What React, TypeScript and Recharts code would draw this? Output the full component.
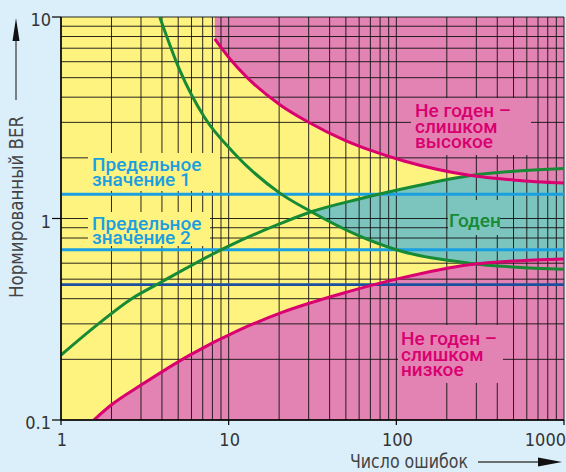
import React from 'react';
import {
  ComposedChart,
  Area,
  Line,
  XAxis,
  YAxis,
  CartesianGrid,
  ReferenceLine,
  ReferenceArea,
} from 'recharts';

// log grid: every 1..9 step of each decade
const xTicks = [1, 2, 3, 4, 5, 6, 7, 8, 9, 10, 20, 30, 40, 50, 60, 70, 80, 90, 100, 200, 300, 400, 500, 600, 700, 800, 900, 1000];
const yTicks = [0.1, 0.2, 0.3, 0.4, 0.5, 0.6, 0.7, 0.8, 0.9, 1, 2, 3, 4, 5, 6, 7, 8, 9, 10];
const xLabels = [1, 10, 100, 1000];
const yLabels = [0.1, 1, 10];

// green curves (borders of the "Годен" zone)
const fallX = [3.88, 5.1, 7.2, 10.6, 20.1, 31.1, 60, 100, 272, 1000];
const fallY = [10, 5.46, 3.16, 2.14, 1.34, 1.08, 0.82, 0.7, 0.6, 0.56];
const riseX = [1, 1.67, 2.64, 3.9, 10, 20.1, 31.1, 60, 100, 272, 1000];
const riseY = [0.21, 0.3, 0.4, 0.48, 0.73, 0.94, 1.08, 1.25, 1.38, 1.63, 1.77];

// magenta curves (too high / too low)
const highX = [8.26, 10.1, 13, 20.3, 29.6, 49, 69, 111, 272, 511, 1000];
const highY = [7.78, 6.24, 4.97, 3.66, 3.02, 2.45, 2.19, 1.93, 1.64, 1.55, 1.5];
const lowX = [1.57, 2, 3, 5.86, 11.6, 21, 50, 100, 272, 1000];
const lowY = [0.1, 0.119, 0.149, 0.21, 0.28, 0.343, 0.43, 0.5, 0.59, 0.63];

// horizontal levels
const limitLevels = [1.32, 0.7];
const normLevel = 0.47;

const BG = '#dbeffb';
const YELLOW = '#fff380';
const PINK = '#e283b3';
const TEAL = '#7cc4be';
const GREEN = '#168a34';
const MAGENTA = '#d9006f';
const LIGHT_BLUE = '#1a9fe0';
const DARK_BLUE = '#1d4f9f';
const AXIS_FONT = '"Liberation Sans Narrow", "DejaVu Sans Condensed", sans-serif';
const LABEL_FONT = 'Roboto, "Noto Sans", sans-serif';

const toPoints = (xs: number[], ys: number[]) => xs.map((x, i) => ({ x, y: ys[i] }));

const fallData = toPoints(fallX, fallY);
const riseData = toPoints(riseX, riseY);
const highData = toPoints(highX, highY);
const lowData = toPoints(lowX, lowY);

const highFill = highX.map((x, i) => ({ x, range: [highY[i], 10] }));
const lowFill = lowX.map((x, i) => ({ x, range: [0.1, lowY[i]] }));
// teal zone: between the two green curves, where the rising one is above
const goodFill = fallX
  .filter((x) => x >= 31.1 && riseX.includes(x))
  .map((x) => ({ x, range: [fallY[fallX.indexOf(x)], riseY[riseX.indexOf(x)]] }));

const XTick = (props: any) => {
  const { x, y, payload } = props;
  if (!xLabels.includes(payload.value)) return <g />;
  const last = payload.value === 1000;
  return (
    <g>
      <line x1={x} x2={x} y1={y} y2={y + 5} stroke="#000" strokeWidth={1.2} />
      <text
        x={last ? x + 2 : x + 1}
        y={y + 26}
        textAnchor={last ? 'end' : 'middle'}
        fontSize={18}
        fontFamily={AXIS_FONT}
        fill="#333"
      >
        {payload.value}
      </text>
    </g>
  );
};

const YTick = (props: any) => {
  const { x, y, payload } = props;
  if (!yLabels.includes(payload.value)) return <g />;
  return (
    <g>
      <line x1={x - 9} x2={x} y1={y} y2={y} stroke="#000" strokeWidth={1.2} />
      <text x={x - 10} y={y + 9} textAnchor="end" fontSize={18} fontFamily={AXIS_FONT} fill="#333">
        {payload.value}
      </text>
    </g>
  );
};

// multi-line label as one text element, tight leading like the original
const Label = ({ x, y, lines, color, gap }: { x: number; y: number; lines: string[]; color: string; gap: number }) => (
  <text x={x} y={y} fill={color}>
    {lines.map((l, i) => (
      <tspan key={i} x={x} dy={i === 0 ? 0 : gap}>
        {l}
      </tspan>
    ))}
  </text>
);

const Overlay = () => (
  <svg
    width={566}
    height={472}
    style={{ position: 'absolute', left: 0, top: 0, pointerEvents: 'none' }}
  >
    {/* label boxes that break the grid */}
    <rect x={88} y={153} width={132} height={38} fill={YELLOW} />
    <rect x={88} y={212} width={122} height={34} fill={YELLOW} />
    <rect x={411} y={98} width={120} height={57} fill={PINK} />
    <rect x={448} y={200} width={52} height={35} fill={TEAL} />
    <rect x={398} y={325} width={105} height={58} fill={PINK} />

    <g fontFamily={LABEL_FONT} fontWeight={500} fontSize={19}>
      <Label x={92} y={171} gap={15} color={LIGHT_BLUE} lines={['Предельное', 'значение 1']} />
      <Label x={92} y={230} gap={14} color={LIGHT_BLUE} lines={['Предельное', 'значение 2']} />
      <Label x={415} y={117} gap={15.5} color={MAGENTA} lines={['Не годен –', 'слишком', 'высокое']} />
      <text x={449} y={227} fill={GREEN}>Годен</text>
      <Label x={401} y={345} gap={15.5} color={MAGENTA} lines={['Не годен –', 'слишком', 'низкое']} />
    </g>

    {/* axis titles with arrows */}
    <text
      x={0}
      y={0}
      transform="translate(23 207) rotate(-90)"
      textAnchor="middle"
      fontFamily={AXIS_FONT}
      fontSize={20}
      textLength={182}
      lengthAdjust="spacingAndGlyphs"
      fill="#444"
    >
      Нормированный BER
    </text>
    <line x1={16} x2={16} y1={100} y2={36} stroke="#444" strokeWidth={1.3} />
    <polygon points="16,18 12.5,41 19.5,41" fill="#111" />

    <text
      x={350}
      y={468}
      fontFamily={AXIS_FONT}
      fontSize={19}
      textLength={118}
      lengthAdjust="spacingAndGlyphs"
      fill="#444"
    >
      Число ошибок
    </text>
    <line x1={478} x2={540} y1={462} y2={462} stroke="#444" strokeWidth={1.3} />
    <polygon points="562,462 538,457.5 538,466.5" fill="#111" />
  </svg>
);

export default function App() {
  return (
    <div style={{ position: 'relative', width: 566, height: 472, background: BG }}>
      <style>{'body{margin:0}'}</style>
      <ComposedChart width={566} height={472} margin={{ top: 17, right: 2, bottom: 0, left: 0 }}>
        <XAxis
          dataKey="x"
          type="number"
          scale="log"
          domain={[1, 1000]}
          ticks={xTicks}
          interval={0}
          allowDataOverflow
          height={52}
          tickLine={false}
          tickSize={0}
          tickMargin={0}
          axisLine={{ stroke: '#000', strokeWidth: 1.5 }}
          tick={XTick}
        />
        <YAxis
          type="number"
          scale="log"
          domain={[0.1, 10]}
          ticks={yTicks}
          interval={0}
          allowDataOverflow
          width={61}
          tickLine={false}
          tickSize={0}
          tickMargin={0}
          axisLine={{ stroke: '#000', strokeWidth: 1.5 }}
          tick={YTick}
        />

        <ReferenceArea x1={1} x2={1000} y1={0.1} y2={10} fill={YELLOW} fillOpacity={1} stroke="none" zIndex={-50} />

        <Area data={goodFill} dataKey="range" type="monotone" stroke="none" fill={TEAL} fillOpacity={1} isAnimationActive={false} />
        <Area data={highFill} dataKey="range" type="monotone" stroke="none" fill={PINK} fillOpacity={1} isAnimationActive={false} />
        <Area data={lowFill} dataKey="range" type="monotone" stroke="none" fill={PINK} fillOpacity={1} isAnimationActive={false} />

        <CartesianGrid stroke="#111" strokeWidth={1} strokeOpacity={0.9} zIndex={150} />

        {limitLevels.map((v) => (
          <ReferenceLine key={v} y={v} stroke={LIGHT_BLUE} strokeWidth={3} zIndex={300} />
        ))}
        <ReferenceLine y={normLevel} stroke={DARK_BLUE} strokeWidth={2.7} zIndex={300} />

        <Line data={fallData} dataKey="y" type="monotone" stroke={GREEN} strokeWidth={3} dot={false} isAnimationActive={false} />
        <Line data={riseData} dataKey="y" type="monotone" stroke={GREEN} strokeWidth={3} dot={false} isAnimationActive={false} />
        <Line data={highData} dataKey="y" type="monotone" stroke={MAGENTA} strokeWidth={3} dot={false} isAnimationActive={false} />
        <Line data={lowData} dataKey="y" type="monotone" stroke={MAGENTA} strokeWidth={3} dot={false} isAnimationActive={false} />
      </ComposedChart>
      <Overlay />
    </div>
  );
}
